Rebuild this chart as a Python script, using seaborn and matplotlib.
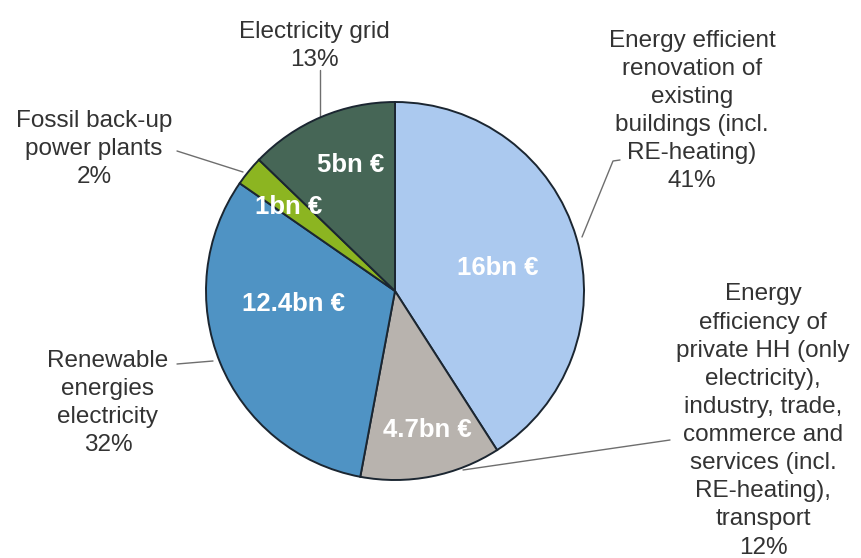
import matplotlib
matplotlib.use("Agg")
import matplotlib.pyplot as plt
import seaborn as sns
import numpy as np

# Investment shares (bn €) by field of action
categories = [
    "Energy efficient\nrenovation of\nexisting\nbuildings (incl.\nRE-heating)",
    "Energy\nefficiency of\nprivate HH (only\nelectricity),\nindustry, trade,\ncommerce and\nservices (incl.\nRE-heating),\ntransport",
    "Renewable\nenergies\nelectricity",
    "Fossil back-up\npower plants",
    "Electricity grid",
]
investment_bn = [16, 4.7, 12.4, 1, 5]
value_labels = ["16bn €", "4.7bn €", "12.4bn €", "1bn €", "5bn €"]
share_labels = ["41%", "12%", "32%", "2%", "13%"]

wedge_colors = ["#abc9ef", "#b8b3ae", "#4f93c4", "#8cb521", "#466656"]

sns.set_theme(style="white")
plt.rcParams["font.family"] = ["Liberation Sans", "DejaVu Sans"]

W, H = 862, 558
fig = plt.figure(figsize=(W / 100, H / 100), dpi=100)
ax = fig.add_axes([0, 0, 1, 1])

cx, cy, r = 395, 291, 189
wedges, _ = ax.pie(
    investment_bn,
    colors=wedge_colors,
    startangle=-90,
    counterclock=True,
    center=(cx, cy),
    radius=r,
    wedgeprops=dict(edgecolor="#1b2631", linewidth=1.4),
)
ax.set_xlim(0, W)
ax.set_ylim(H, 0)
ax.set_aspect("equal")
ax.axis("off")

# value labels inside the wedges
label_radius = [0.555, 0.756, 0.54, 0.72, 0.71]
label_shift = [3.7, -2.0, 15.0, -1.0, 3.5]
for w, txt, f, d in zip(wedges, value_labels, label_radius, label_shift):
    ang = np.deg2rad((w.theta1 + w.theta2) / 2 + d)
    ax.text(cx + f * r * np.cos(ang), cy + f * r * np.sin(ang), txt,
            ha="center", va="center", color="white", fontsize=18.5,
            fontweight="bold")

# outer category labels
text_color = "#333333"
outer_pos = [(692, 111), (763, 421), (108, 403), (94, 149), (314, 46)]
for (x, y), name, share in zip(outer_pos, categories, share_labels):
    ax.text(x, y, f"{name}\n{share}", ha="center", va="center",
            color=text_color, fontsize=17.5, linespacing=1.36)

# leader lines
leaders = [
    [(620, 160), (613, 161), (582, 237)],
    [(670, 440), (463, 470)],
    [(177, 364), (213, 361)],
    [(177, 151), (243, 172)],
    [(320, 70), (320, 117)],
]
for pts in leaders:
    xs, ys = zip(*pts)
    ax.plot(xs, ys, color="#6e6e6e", lw=1.0, zorder=0)

fig.savefig("out.png", dpi=100, facecolor="white")
